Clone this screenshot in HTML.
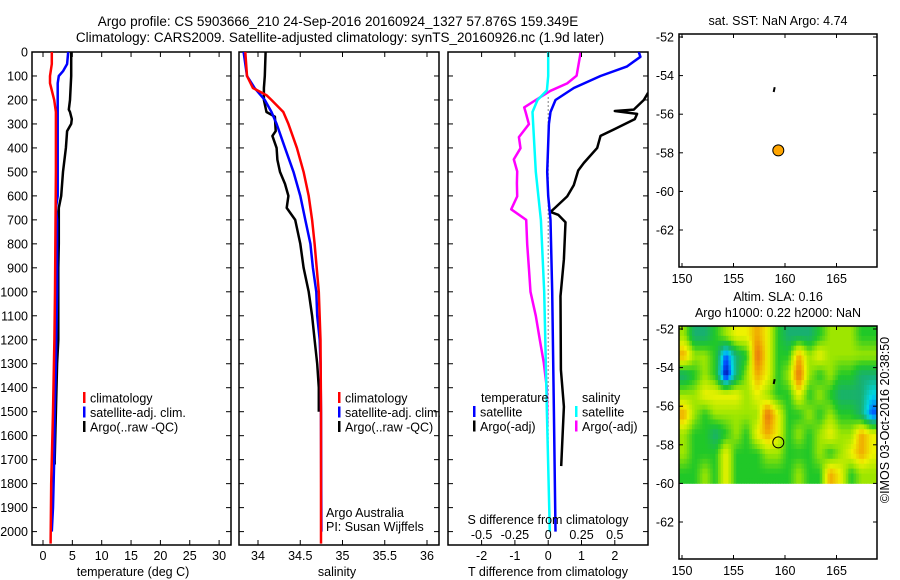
<!DOCTYPE html>
<html><head><meta charset="utf-8">
<style>
html,body{margin:0;padding:0;background:#fff;}
svg{display:block;font-family:"Liberation Sans",sans-serif;}
</style></head>
<body>
<svg id="chart" width="900" height="580" viewBox="0 0 900 580">
<g id="root"></g>
</svg>
<script>
// ---------------- DATA ----------------
const tClimDepth = [0,50,100,130,170,200,250,500,1000,1200,1500,1800,2050];
const tClimVal   = [1.5,1.5,1.2,1.2,1.6,1.9,2.2,2.2,2.05,1.95,1.7,1.4,1.3];
const tSatDepth  = [0,50,80,100,130,200,600,650,700,1000,1300,1500,1700,1900,2000];
const tSatVal    = [4.3,4.1,3.4,2.7,2.5,2.5,2.5,2.2,2.4,2.4,2.2,2.0,1.9,1.7,1.5];
const tArgoDepth = [0,100,200,240,250,280,300,330,400,500,600,650,700,800,900,1000,1200,1300,1500,1700,1720];
const tArgoVal   = [4.8,4.8,4.6,4.4,4.6,4.9,4.8,4.1,3.9,3.4,3.1,2.7,2.7,2.7,2.6,2.6,2.6,2.4,2.2,2.0,2.0];

const sClimDepth = [0,100,150,180,200,250,300,400,500,600,700,800,1000,1200,1500,2050];
const sClimVal   = [33.85,33.87,33.94,34.10,34.16,34.30,34.36,34.46,34.54,34.60,34.64,34.67,34.72,34.74,34.745,34.745];
const sSatDepth  = [0,100,150,200,250,300,400,500,600,700,800,900,1000,1100,1200,1300,1500,2000];
const sSatVal    = [33.83,33.87,33.96,34.08,34.16,34.22,34.32,34.42,34.50,34.56,34.62,34.65,34.69,34.70,34.73,34.74,34.745,34.75];
const sArgoDepth = [0,100,150,200,250,270,330,350,400,450,500,550,600,650,700,800,900,1000,1100,1200,1300,1400,1500];
const sArgoVal   = [34.09,34.08,34.07,34.07,34.10,34.20,34.21,34.17,34.22,34.23,34.26,34.32,34.36,34.34,34.44,34.50,34.54,34.60,34.64,34.67,34.70,34.72,34.72];

const dTSatDepth  = [0,20,60,100,150,200,250,300,500,600,700,1000,1500,2000];
const dTSatVal    = [2.72,2.77,2.37,1.57,0.77,0.22,0.07,0.02,-0.03,0.0,0.07,0.12,0.17,0.22];
const dTArgoDepth = [170,200,240,246,258,280,323,350,400,463,494,555,602,648,667,679,710,864,1018,1325,1479,1634,1727];
const dTArgoVal   = [3.0,2.87,2.57,2.0,2.67,2.6,1.97,1.57,1.47,1.07,0.9,0.77,0.57,0.22,0.07,0.3,0.52,0.47,0.37,0.38,0.47,0.42,0.39];
const dSSatDepth  = [0,100,160,200,250,500,700,1000,1500,2000];
const dSSatVal    = [0.0,0.0,-0.01,-0.08,-0.118,-0.093,-0.055,-0.03,-0.01,0.012];
const dSArgoDepth = [3,99,131,162,200,231,250,301,355,401,448,498,548,602,656,700,802,901,1000,1100,1200,1296,1404,1558];
const dSArgoVal   = [0.243,0.213,0.143,0.017,-0.093,-0.18,-0.17,-0.145,-0.22,-0.208,-0.258,-0.233,-0.235,-0.233,-0.278,-0.165,-0.158,-0.145,-0.133,-0.093,-0.063,-0.033,-0.01,-0.006];

const depthTicks = [0,100,200,300,400,500,600,700,800,900,1000,1100,1200,1300,1400,1500,1600,1700,1800,1900,2000];
const tempTicks = [0,5,10,15,20,25,30];
const salTicks = [34,34.5,35,35.5,36];
const salTickLabels = ["34","34.5","35","35.5","36"];
const dTTicks = [-2,-1,0,1,2];
const dSTicks = [-0.5,-0.25,0,0.25,0.5];
const dSTickLabels = ["-0.5","-0.25","0","0.25","0.5"];
const lonTicks = [150,155,160,165];
const latTicks = [-52,-54,-56,-58,-60,-62];

const argoLon = 159.349, argoLat = -57.876;
const trackLon = [158.9,159.0], trackLat = [-54.85,-54.6];

const slaRows = [
 [5,3,3,4,5,6,6,7,6,4,3,3,3,4,5,5,5,4,4],
 [7,5,5,4,1,3,4,8,6,4,4,7,5,6,5,5,5,5,5],
 [3,4,5,4,0,3,5,7,6,4,5,8,5,4,5,4,4,3,3],
 [5,5,6,6,6,6,5,6,5,4,4,6,4,5,4,3,3,3,2],
 [7,5,4,5,5,5,5,5,8,6,4,4,5,4,5,4,4,3,1],
 [5,4,4,3,4,5,4,6,7,6,4,5,4,5,6,5,5,7,6],
 [5,4,4,4,6,4,4,4,5,5,4,4,4,5,4,5,6,7,6],
 [4,4,5,4,6,4,4,4,4,4,4,5,4,4,7,6,4,5,5]
];
const slaColors = [[0,0,143],[0,80,255],[0,216,232],[24,176,112],[32,200,40],[158,230,0],[238,242,0],[240,168,0],[232,112,16]];

// ---------------- HELPERS ----------------
const NS="http://www.w3.org/2000/svg";
const root=document.getElementById('root');
function mk(tag,attrs,parent){const e=document.createElementNS(NS,tag);for(const k in attrs)e.setAttribute(k,attrs[k]);(parent||root).appendChild(e);return e;}
function txt(s,x,y,anchor,size,parent){const t=mk('text',{x:x,y:y,'text-anchor':anchor||'start','font-size':size||12,fill:'#000'},parent);t.textContent=s;return t;}

const Y0=52, YB=545, DPX=0.2398;
function yD(d){return Y0+d*DPX;}
function lin(d0,d1,p0,p1){return v=>p0+(v-d0)*(p1-p0)/(d1-d0);}
const xT = lin(0,30,43,219.1);
const xS = lin(34,36,258,427);
const xDT = lin(0,2,548.2,614.8);
const xDS = lin(0,0.5,548.2,614.8);

function panelFrame(name,x0,x1){
  const g=mk('g',{});
  
  
  const r=mk('rect',{x:x0,y:Y0,width:x1-x0,height:YB-Y0,fill:'none',stroke:'#000','stroke-width':1.5},g);
  
  
  depthTicks.forEach(d=>{
    mk('line',{x1:x0,x2:x0+5,y1:yD(d),y2:yD(d),stroke:'#000'},g);
    mk('line',{x1:x1,x2:x1-5,y1:yD(d),y2:yD(d),stroke:'#000'},g);
  });
  return g;
}
function line(name,depths,vals,xf,color,w,parent){
  let p=depths.map((d,i)=>xf(vals[i]).toFixed(1)+','+yD(d).toFixed(1)).join(' ');
  const l=mk('polyline',{points:p,fill:'none',stroke:color,'stroke-width':w||2.5,'stroke-linejoin':'round'},parent);
  
  
  return l;
}

const tt=mk('g',{});


txt('Argo profile: CS 5903666_210 24-Sep-2016 20160924_1327 57.876S 159.349E',338,26,'middle',13.5,tt);
txt('Climatology: CARS2009. Satellite-adjusted climatology: synTS_20160926.nc (1.9d later)',340,42,'middle',13.5,tt);

// ---- panel 1 ----
const p1=panelFrame('temperature-panel',32,231);
const yl=mk('g',{},p1);


depthTicks.forEach(d=>txt(String(d),28,yD(d)+4.5,'end',12.5,yl));
tempTicks.forEach(v=>{mk('line',{x1:xT(v),x2:xT(v),y1:Y0,y2:Y0+5,stroke:'#000'},p1);mk('line',{x1:xT(v),x2:xT(v),y1:YB,y2:YB-5,stroke:'#000'},p1);txt(String(v),xT(v),560,'middle',12.5,p1);});
const xt1=txt('temperature (deg C)',133,576,'middle',12.5,p1);


line('temp-argo',tArgoDepth,tArgoVal,xT,'#000',2.5,p1);
line('temp-satellite-adj',tSatDepth,tSatVal,xT,'#0000ff',2.5,p1);
line('temp-climatology',tClimDepth,tClimVal,xT,'#ff0000',2.5,p1);

function legend(parent,name,x,items){
  const g=mk('g',{},parent);
  
  
  items.forEach((it,i)=>{
    const y=398+i*14.5;
    mk('rect',{x:x,y:y-6,width:2.5,height:11,fill:it[1]},g);
    txt(it[0],x+7,y+4.5,'start',12.5,g);
  });
}
legend(p1,'temperature-legend',83,[['climatology','#ff0000'],['satellite-adj. clim.','#0000ff'],['Argo(..raw -QC)','#000']]);

// ---- panel 2 ----
const p2=panelFrame('salinity-panel',239,439);
salTicks.forEach((v,i)=>{mk('line',{x1:xS(v),x2:xS(v),y1:Y0,y2:Y0+5,stroke:'#000'},p2);mk('line',{x1:xS(v),x2:xS(v),y1:YB,y2:YB-5,stroke:'#000'},p2);txt(salTickLabels[i],xS(v),560,'middle',12.5,p2);});
const xt2=txt('salinity',337,576,'middle',12.5,p2);


line('sal-argo',sArgoDepth,sArgoVal,xS,'#000',2.5,p2);
line('sal-satellite-adj',sSatDepth,sSatVal,xS,'#0000ff',2.5,p2);
line('sal-climatology',sClimDepth,sClimVal,xS,'#ff0000',2.5,p2);
legend(p2,'salinity-legend',338,[['climatology','#ff0000'],['satellite-adj. clim.','#0000ff'],['Argo(..raw -QC)','#000']]);
const credit=mk('g',{},p2);


txt('Argo Australia',326,517,'start',12.5,credit);
txt('PI: Susan Wijffels',326,531,'start',12.5,credit);

// ---- panel 3 ----
const p3=panelFrame('difference-panel',448,648);
const clipD=mk('clipPath',{id:'clipD'},p3);
mk('rect',{x:448,y:Y0,width:200,height:YB-Y0},clipD);
const g3=mk('g',{'clip-path':'url(#clipD)'},p3);
mk('line',{x1:xDT(0),x2:xDT(0),y1:yD(190),y2:yD(1800),stroke:'#000','stroke-width':1,'stroke-dasharray':'1,3'},g3);
dTTicks.forEach(v=>{mk('line',{x1:xDT(v),x2:xDT(v),y1:Y0,y2:Y0+5,stroke:'#000'},p3);mk('line',{x1:xDT(v),x2:xDT(v),y1:YB,y2:YB-5,stroke:'#000'},p3);txt(String(v),xDT(v),560,'middle',12.5,p3);});
dSTicks.forEach((v,i)=>txt(dSTickLabels[i],xDS(v),539,'middle',12.5,p3));
const st=txt('S difference from climatology',548,524,'middle',12.5,p3);


const tdt=txt('T difference from climatology',548,576,'middle',12.5,p3);


line('dsal-argo',dSArgoDepth,dSArgoVal,xDS,'#ff00ff',2.5,g3);
line('dtemp-argo',dTArgoDepth,dTArgoVal,xDT,'#000',2.5,g3);
line('dsal-satellite',dSSatDepth,dSSatVal,xDS,'#00ffff',2.5,g3);
line('dtemp-satellite',dTSatDepth,dTSatVal,xDT,'#0000ff',2.5,g3);
const lg3=mk('g',{},p3);


txt('temperature',481,402,'start',12.5,lg3);
txt('salinity',582,402,'start',12.5,lg3);
[['satellite','#0000ff',473],['Argo(-adj)','#000',473],['satellite','#00ffff',575],['Argo(-adj)','#ff00ff',575]].forEach((it,i)=>{
  const y=412+(i%2)*14.5;
  mk('rect',{x:it[2],y:y-6,width:2.5,height:11,fill:it[1]},lg3);
  txt(it[0],it[2]+7,y+4.5,'start',12.5,lg3);
});

// ---- maps ----
const MX0=679, MX1=877;
const xLon=lin(150,165,682,836.5);
function mapFrame(name,top,title){
  const bottom=top+233;
  const yLat=lin(-52,-62,top+3,top+3+193);
  const g=mk('g',{});
  
  
  return {g,top,bottom,yLat,draw(){
    const r=mk('rect',{x:MX0,y:top,width:MX1-MX0,height:bottom-top,fill:'none',stroke:'#000','stroke-width':1.5},g);
    
    
    lonTicks.forEach(v=>{mk('line',{x1:xLon(v),x2:xLon(v),y1:top,y2:top+4,stroke:'#000'},g);mk('line',{x1:xLon(v),x2:xLon(v),y1:bottom,y2:bottom-4,stroke:'#000'},g);txt(String(v),xLon(v),bottom+16,'middle',12.5,g);});
    latTicks.forEach(v=>{mk('line',{x1:MX0,x2:MX0+4,y1:yLat(v),y2:yLat(v),stroke:'#000'},g);mk('line',{x1:MX1,x2:MX1-4,y1:yLat(v),y2:yLat(v),stroke:'#000'},g);txt(String(v),674,yLat(v)+4.5,'end',12.5,g);});
    title.forEach((t,i)=>txt(t,778,title.length===1?top-9:top-25+i*16,'middle',12.5,g));
  }};
}
const m1=mapFrame('sst-map',34,['sat. SST: NaN Argo: 4.74']);
m1.draw();
mk('polyline',{points:trackLon.map((v,i)=>xLon(v)+','+m1.yLat(trackLat[i])).join(' '),stroke:'#000','stroke-width':2,fill:'none'},m1.g);
const c1=mk('circle',{cx:xLon(argoLon),cy:m1.yLat(argoLat),r:5.5,fill:'#ffa500',stroke:'#000','stroke-width':1},m1.g);



const m2=mapFrame('sla-map',326,['Altim. SLA: 0.16','Argo h1000: 0.22 h2000: NaN']);
const hm=mk('g',{},m2.g);


const nR=slaRows.length, nC=slaRows[0].length, SUB=4;
function sampleVal(r,c){
  r=Math.max(0,Math.min(nR-1,r)); c=Math.max(0,Math.min(nC-1,c));
  const r0=Math.floor(r), c0=Math.floor(c), r1=Math.min(nR-1,r0+1), c1=Math.min(nC-1,c0+1);
  const fr=r-r0, fc=c-c0;
  return (slaRows[r0][c0]*(1-fc)+slaRows[r0][c1]*fc)*(1-fr)+(slaRows[r1][c0]*(1-fc)+slaRows[r1][c1]*fc)*fr;
}
function colorOf(v){
  const i=Math.max(0,Math.min(slaColors.length-1.001,v)), a=Math.floor(i), f=i-a;
  const A=slaColors[a], B=slaColors[a+1];
  return 'rgb('+A.map((x,k)=>Math.round(x+(B[k]-x)*f)).join(',')+')';
}
const lonStart=149.7;
const xL=xLon(lonStart), xR=MX1, yTop=m2.top, yBot=m2.yLat(-60);
const cw=(xR-xL)/(nC*SUB), ch=(yBot-yTop)/(nR*SUB);
for(let i=0;i<nR*SUB;i++){
  for(let j=0;j<nC*SUB;j++){
    const r=(i+0.5)/SUB-0.5, c=(j+0.5)/SUB-0.5;
    const cell=mk('rect',{x:(xL+j*cw).toFixed(2),y:(yTop+i*ch).toFixed(2),width:(cw+0.4).toFixed(2),height:(ch+0.4).toFixed(2),fill:colorOf(sampleVal(r,c))},hm);
    
    
  }
}
m2.draw();
mk('polyline',{points:trackLon.map((v,i)=>xLon(v)+','+m2.yLat(trackLat[i])).join(' '),stroke:'#000','stroke-width':2,fill:'none'},m2.g);
const c2=mk('circle',{cx:xLon(argoLon),cy:m2.yLat(argoLat),r:5.5,fill:'none',stroke:'#000','stroke-width':1},m2.g);



const imos=txt('©IMOS 03-Oct-2016 20:38:50',0,0,'middle',12.5);
imos.setAttribute('transform','translate(889,420) rotate(-90)');


</script>
</body></html>
